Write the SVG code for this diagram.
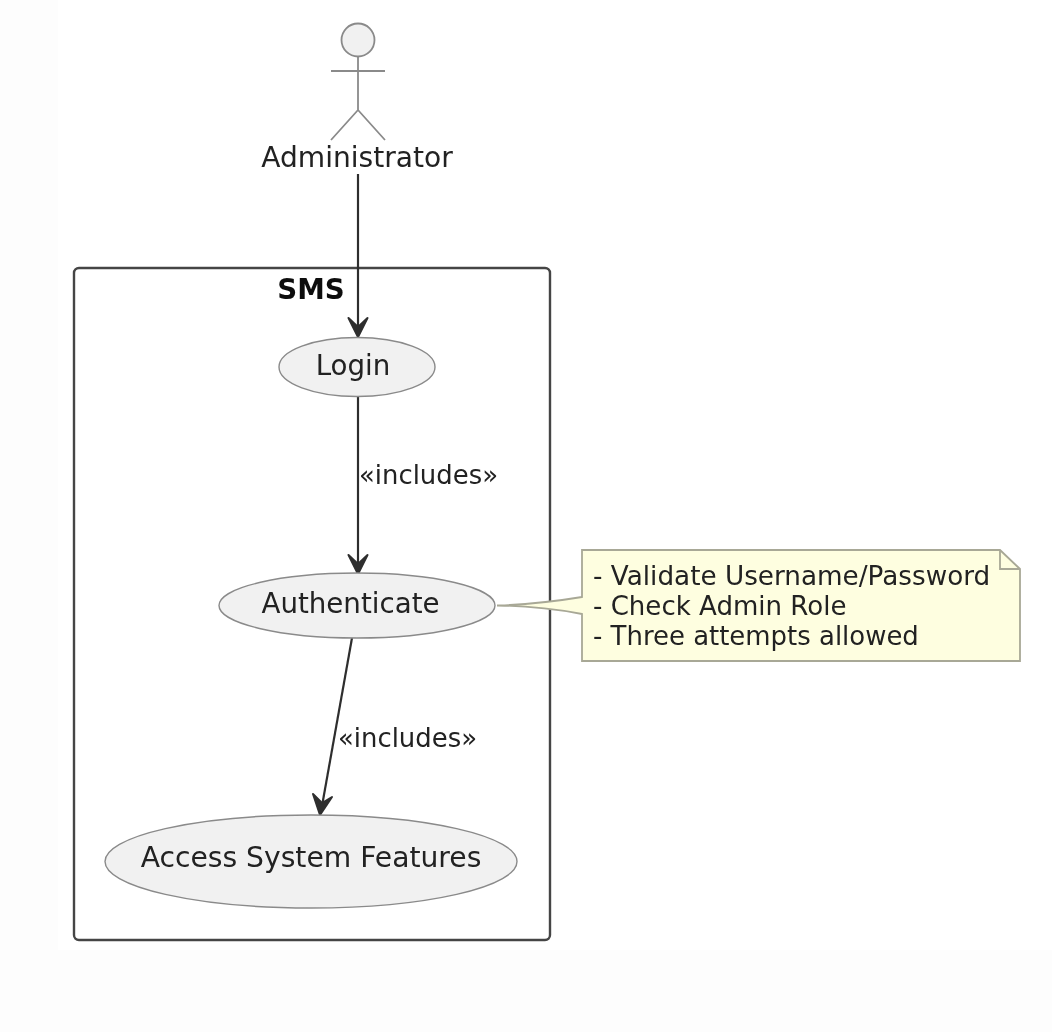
<svg xmlns="http://www.w3.org/2000/svg" width="1052" height="1032" viewBox="0 0 1052 1032">
<style>
text{font-family:"DejaVu Sans",sans-serif;fill:#222;font-size:27.7px}
.c{text-anchor:middle}
.uc{fill:#f1f1f1;stroke:#8a8a8a;stroke-width:1.4}
.con{fill:none;stroke:#2f2f2f;stroke-width:2.200}
.head{fill:#2f2f2f;stroke:#2f2f2f;stroke-width:2;stroke-linejoin:round}
.a{fill:none;stroke:#8a8a8a;stroke-width:1.8}
</style>
<defs><filter id="soft" filterUnits="userSpaceOnUse" x="0" y="0" width="1052" height="1032"><feGaussianBlur stdDeviation="0.5"/></filter></defs>
<rect width="1052" height="1032" fill="#fdfdfd"/>
<rect x="58" y="0" width="994" height="950" fill="#fff"/>
<g filter="url(#soft)">
<g id="sms">
<rect x="74" y="268" width="476" height="672" rx="5" fill="none" stroke="#444" stroke-width="2.400"/>
<text class="c" x="311" y="299" style="font-weight:bold;fill:#111">SMS</text>
</g>
<g id="connectors">
<path class="con" d="M358 174V330"/>
<path class="head" d="M358 337L348.500 318L358 327L367.500 318Z"/>
<path class="con" d="M358 396V566"/>
<path class="head" d="M358 574L348.500 555L358 564L367.500 555Z"/>
<path class="con" d="M352 638L322 806"/>
<path class="head" d="M320 815L313 794L322 803L332 797Z"/>
<text x="359" y="484" style="font-size:25.900px">«includes»</text>
<text x="338" y="747" style="font-size:25.900px">«includes»</text>
</g>
<g id="administrator">
<circle class="uc" cx="358" cy="40" r="16.500" style="stroke-width:1.800"/>
<path class="a" d="M358 57V110M331 71H385M331 140L358 110L385 140"/>
<text class="c" x="357" y="167" style="font-size:28.100px">Administrator</text>
</g>
<g id="login">
<ellipse class="uc" cx="357" cy="367" rx="78" ry="29.500"/>
<text class="c" x="353" y="375">Login</text>
</g>
<g id="authenticate">
<ellipse class="uc" cx="357" cy="605.500" rx="138" ry="32.500"/>
<text class="c" x="350.500" y="613">Authenticate</text>
</g>
<g id="access">
<ellipse class="uc" cx="311" cy="861.500" rx="206" ry="46.500"/>
<text class="c" x="311" y="867" style="font-size:28.200px">Access System Features</text>
</g>
<g id="note">
<path d="M582 550H1000L1020 569V661H582V614Q540 606 497 605.500Q540 604 582 597Z" fill="#fefee0" stroke="#a8a896" stroke-width="1.800"/>
<path d="M1000 550V569H1020" fill="none" stroke="#a8a896" stroke-width="1.800"/>
<text x="593" y="585" style="font-size:26.250px">- Validate Username/Password</text>
<text x="593" y="615" style="font-size:26.050px">- Check Admin Role</text>
<text x="593" y="645" style="font-size:25.950px">- Three attempts allowed</text>
</g>
</g>
</svg>
